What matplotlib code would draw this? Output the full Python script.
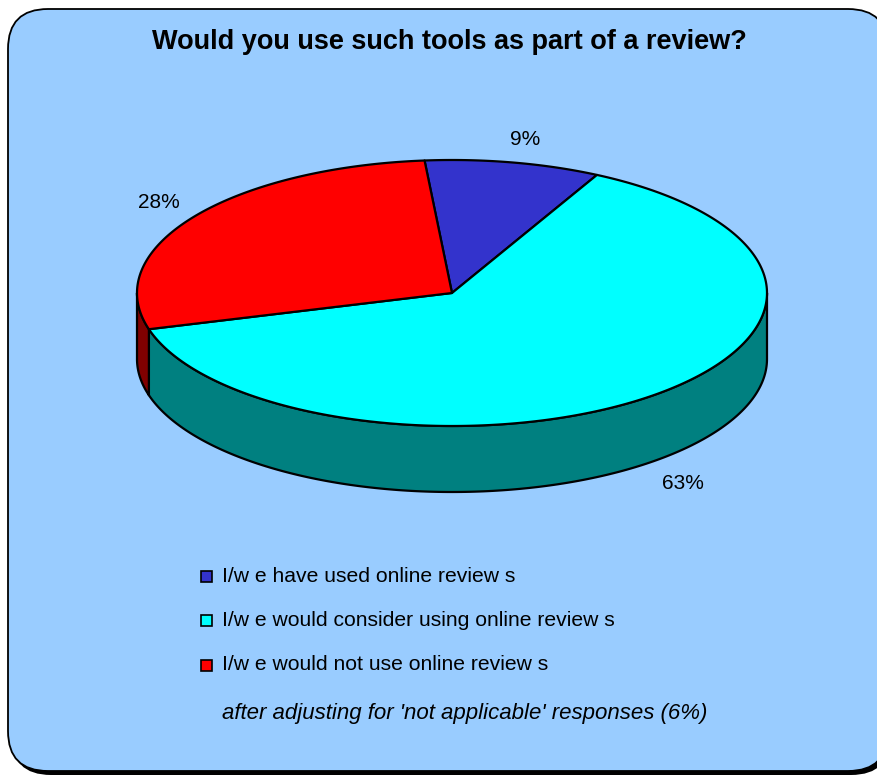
import numpy as np
import matplotlib
matplotlib.use("Agg")
import matplotlib.pyplot as plt
from matplotlib.patches import FancyBboxPatch, Polygon, Rectangle

plt.rcParams['font.family'] = ['Liberation Sans', 'DejaVu Sans']

# Survey answers (percent of respondents)
categories = ["I/w e have used online review s",
              "I/w e would consider using online review s",
              "I/w e would not use online review s"]
values = [9, 63, 28]
pct_labels = ["9%", "63%", "28%"]
top_colors = ["#3333CC", "#00FFFF", "#FF0000"]
side_colors = ["#1A1A66", "#008080", "#800000"]
title = "Would you use such tools as part of a review?"
note = "after adjusting for 'not applicable' responses (6%)"

W, H = 878, 778
fig = plt.figure(figsize=(W / 100, H / 100), dpi=100)
ax = fig.add_axes([0, 0, 1, 1])
ax.set_xlim(0, W)
ax.set_ylim(H, 0)
ax.axis("off")

# Rounded chart area with drop shadow
shadow = FancyBboxPatch((11, 13), 880, 762, boxstyle="round,pad=0,rounding_size=40",
                        fc="black", ec="none", zorder=0)
ax.add_patch(shadow)
panel = FancyBboxPatch((8, 9), 880, 762, boxstyle="round,pad=0,rounding_size=40",
                       fc="#99CCFF", ec="black", lw=1.3, zorder=1)
ax.add_patch(panel)

ax.text(449, 42, title, ha="center", va="center", fontsize=19.5,
        fontweight="bold", zorder=5)

# 3-D pie geometry: ellipse for the top face, extruded downward
cx, cy, rx, ry, depth = 452, 293, 315, 133, 66
start = -5.0  # degrees clockwise from 12 o'clock


def ell(theta_deg, dy=0.0):
    t = np.radians(theta_deg)
    return cx + rx * np.sin(t), cy - ry * np.cos(t) + dy


fracs = np.array(values, dtype=float) / np.sum(values)
bounds = start + 360 * np.concatenate([[0], np.cumsum(fracs)])

# Outer wall: only the front half (90..270 degrees) is visible
for i in range(len(values)):
    a0, a1 = bounds[i], bounds[i + 1]
    for shift in (-360, 0, 360):
        lo = max(a0 + shift, 90)
        hi = min(a1 + shift, 270)
        if hi <= lo:
            continue
        th = np.linspace(lo, hi, 200)
        xt, yt = ell(th)
        xb, yb = ell(th, depth)
        pts = np.column_stack([np.concatenate([xt, xb[::-1]]),
                               np.concatenate([yt, yb[::-1]])])
        ax.add_patch(Polygon(pts, closed=True, fc=side_colors[i], ec="black",
                             lw=1.6, joinstyle="round", zorder=2))

# Top face wedges
for i in range(len(values)):
    th = np.linspace(bounds[i], bounds[i + 1], 300)
    xt, yt = ell(th)
    pts = np.column_stack([np.concatenate([[cx], xt]),
                           np.concatenate([[cy], yt])])
    ax.add_patch(Polygon(pts, closed=True, fc=top_colors[i], ec="black",
                         lw=1.6, joinstyle="round", zorder=3))

# Percentage labels outside the pie
label_pos = [(525, 139), (683, 483), (159, 202)]
for (x, y), lab in zip(label_pos, pct_labels):
    ax.text(x, y, lab, ha="center", va="center", fontsize=15, zorder=5)

# Legend
leg_y = [576, 620, 665]
for y, lab, col in zip(leg_y, categories, top_colors):
    ax.add_patch(Rectangle((201, y - 5.5), 11, 11, fc=col, ec="black",
                           lw=1.2, zorder=5))
    ax.text(222, y, lab, ha="left", va="center", fontsize=15.2, zorder=5)
ax.text(222, 713, note, ha="left", va="center", fontsize=16,
        style="italic", zorder=5)

fig.savefig("out.png", dpi=100)
